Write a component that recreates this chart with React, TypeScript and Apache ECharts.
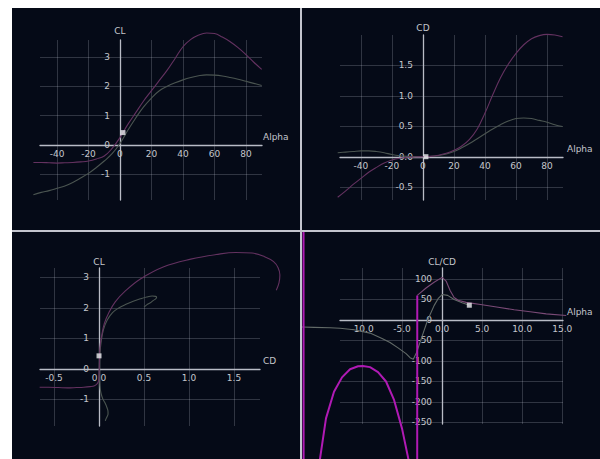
import React, { useEffect, useRef } from 'react';
import * as echarts from 'echarts';

// ---- Data ----
const alpha = [-55, -50, -45, -40, -35, -30, -25, -20, -15, -10, -5, 0, 5, 10, 15, 20, 25, 30, 35, 40, 45, 50, 55, 60, 65, 70, 75, 80, 85, 90];
// polar A (purple)
const clA = [-0.6, -0.6, -0.61, -0.62, -0.61, -0.6, -0.58, -0.55, -0.48, -0.38, -0.12, 0.25, 0.7, 1.1, 1.5, 1.85, 2.2, 2.55, 2.95, 3.35, 3.6, 3.75, 3.82, 3.8, 3.68, 3.52, 3.32, 3.08, 2.82, 2.58];
const cdA = [-0.66, -0.56, -0.45, -0.35, -0.25, -0.17, -0.1, -0.05, -0.02, -0.005, 0.0, 0.005, 0.01, 0.03, 0.06, 0.11, 0.18, 0.29, 0.46, 0.72, 1.02, 1.3, 1.52, 1.7, 1.84, 1.94, 1.99, 2.01, 2.0, 1.97];
// polar B (grey)
const clB = [-1.7, -1.62, -1.56, -1.48, -1.4, -1.28, -1.13, -0.97, -0.77, -0.55, -0.3, 0.05, 0.5, 0.92, 1.3, 1.6, 1.85, 2.0, 2.12, 2.22, 2.3, 2.36, 2.39, 2.38, 2.35, 2.3, 2.24, 2.17, 2.1, 2.03];
const cdB = [0.07, 0.08, 0.09, 0.1, 0.1, 0.09, 0.07, 0.04, 0.02, 0.01, 0.006, 0.006, 0.01, 0.025, 0.05, 0.09, 0.15, 0.22, 0.3, 0.38, 0.46, 0.53, 0.59, 0.63, 0.64, 0.63, 0.6, 0.57, 0.53, 0.5];

// CL/CD panel
const ratioAlphaA = [-17.35, -17.25, -16.5, -15.8, -15.25, -14.5, -13.5, -12.5, -11.5, -10.5, -9.9, -9, -8, -7, -6, -5, -4.2, -3.6, -3.3, -3.15, -3.1];
const ratioA = [3000, -3000, -900, -500, -339, -240, -175, -140, -120, -113, -112, -115, -127, -150, -195, -265, -340, -520, -1500, -3000, 60];
const ratioAlphaA2 = [-3.1, -2, -1, 0, 0.5, 1, 1.5, 2, 3, 5, 7, 9, 11, 13, 15.5];
const ratioA2 = [60, 78, 92, 104, 95, 72, 55, 48, 43, 37, 31, 25, 20, 15, 11];
const ratioAlphaB = [-18, -16, -14, -12.75, -11, -9, -7.5, -6.5, -5.5, -4.5, -4, -3.6, -3.2, -2.5, -1.8, -1, -0.5, 0, 0.7, 1.5, 2.5, 3.4];
const ratioB = [-17, -18, -19, -20, -24, -32, -45, -55, -68, -82, -92, -96, -80, -40, 0, 35, 52, 62, 60, 50, 42, 36];

// current operating point markers
const markerCL = [[1.9, 0.42]];
const markerCD = [[1.9, 0.005]];
const markerPolar = [[0.0, 0.43]];
const markerRatio = [[3.4, 36]];

// ---- Styling ----
const BG = '#050a17';
const AXIS_COLOR = '#b9bcc6';
const GRID_COLOR = 'rgba(205,210,225,0.22)';
const LABEL_COLOR = '#c4c6cc';
const FONT = 'DejaVu Sans';
const PURPLE = '#643260';
const GREY = '#4b5551';

type Box = { left: number; top: number; width: number; height: number };

function visAxis(isX: boolean, min: number, max: number, step: number, dec: number, name: string, nameGap: number, offset: number, margin: number) {
  return {
    type: 'value',
    gridIndex: 0,
    position: isX ? 'bottom' : 'left',
    offset,
    min,
    max,
    minInterval: step,
    maxInterval: step,
    splitNumber: Math.round((max - min) / step),
    name,
    nameLocation: 'end',
    nameGap,
    nameTextStyle: isX
      ? { color: LABEL_COLOR, fontFamily: FONT, fontSize: 9, verticalAlign: 'bottom', padding: [0, 0, 3, 0] }
      : { color: LABEL_COLOR, fontFamily: FONT, fontSize: 9 },
    axisLine: { onZero: false, lineStyle: { color: AXIS_COLOR, width: 1.3 } },
    axisTick: { show: false },
    axisLabel: {
      color: LABEL_COLOR,
      fontFamily: FONT,
      fontSize: 9,
      margin,
      showMinLabel: false,
      showMaxLabel: false,
      formatter: (v: number) => v.toFixed(dec),
    },
    splitLine: { show: true, showMinLine: false, showMaxLine: false, lineStyle: { color: GRID_COLOR, width: 1 } },
  };
}

function hiddenAxis(min: number, max: number) {
  return { type: 'value', gridIndex: 1, min, max, show: false, splitLine: { show: false } };
}

function line(data: number[][], color: string, width: number, smooth: boolean | number) {
  return {
    type: 'line',
    xAxisIndex: 1,
    yAxisIndex: 1,
    data,
    showSymbol: false,
    clip: false,
    smooth,
    lineStyle: { color, width },
    itemStyle: { color },
    silent: true,
  };
}

function marker(data: number[][]) {
  return {
    type: 'scatter',
    xAxisIndex: 1,
    yAxisIndex: 1,
    data,
    symbol: 'rect',
    symbolSize: 5,
    clip: false,
    itemStyle: { color: '#ececf0' },
    z: 5,
    silent: true,
  };
}

const zip = (xs: number[], ys: number[]) => xs.map((x, i) => [x, ys[i]]);

// Builds a panel: visible axes on the plot box, series on a full-panel grid with the same scale
function panel(
  W: number,
  H: number,
  g: Box,
  x: [number, number, number, number, string, number],
  y: [number, number, number, number, string, number],
  series: any[]
) {
  const [xmin, xmax, xstep, xdec, xname, xgap] = x;
  const [ymin, ymax, ystep, ydec, yname, ygap] = y;
  const ppx = g.width / (xmax - xmin);
  const ppy = g.height / (ymax - ymin);
  const xOff = -((0 - ymin) * ppy); // move x axis up to y = 0
  const yOff = -((0 - xmin) * ppx); // move y axis right to x = 0
  return {
    animation: false,
    backgroundColor: BG,
    grid: [
      { ...g },
      { left: 0, top: 0, width: W, height: H },
    ],
    xAxis: [
      visAxis(true, xmin, xmax, xstep, xdec, xname, xgap, xOff, 5),
      hiddenAxis(xmin - g.left / ppx, xmax + (W - g.left - g.width) / ppx),
    ],
    yAxis: [
      visAxis(false, ymin, ymax, ystep, ydec, yname, ygap, yOff, 10),
      hiddenAxis(ymin - (H - g.top - g.height) / ppy, ymax + g.top / ppy),
    ],
    series,
  };
}

const opt1 = panel(
  288, 222,
  { left: 28, top: 32, width: 222, height: 160 },
  [-50.8, 90.2, 20, 0, 'Alpha', 1],
  [-1.88, 3.58, 1, 0, 'CL', 5],
  [line(zip(alpha, clB), GREY, 1.1, 0.4), line(zip(alpha, clA), PURPLE, 1.1, 0.4), marker(markerCL)]
);

const opt2 = panel(
  298, 222,
  { left: 38, top: 27, width: 223, height: 165 },
  [-53.5, 90.3, 20, 0, 'Alpha', 4],
  [-0.705, 2.0, 0.5, 1, 'CD', 3],
  [line(zip(alpha, cdB), GREY, 1.1, 0.4), line(zip(alpha, cdA), PURPLE, 1.1, 0.4), marker(markerCD)]
);

const opt3 = panel(
  288, 227,
  { left: 28, top: 36, width: 220, height: 158 },
  [-0.656, 1.789, 0.5, 1, 'CD', 3],
  [-1.87, 3.31, 1, 0, 'CL', 2],
  [line(zip(cdB, clB), GREY, 1.1, 0.4), line(zip(cdA, clA), PURPLE, 1.1, 0.4), marker(markerPolar)]
);

const opt4 = panel(
  298, 227,
  { left: 38, top: 36, width: 223, height: 156 },
  [-12.75, 15.1, 5, 1, 'Alpha', 4],
  [-253.7, 126.8, 50, 0, 'CL/CD', 2],
  [
    line(zip(ratioAlphaB, ratioB), '#636b68', 1.1, false),
    line(zip(ratioAlphaA2, ratioA2), '#7a4a76', 1.1, false),
    line(zip(ratioAlphaA, ratioA), '#b01ab4', 2, false),
    marker(markerRatio),
  ]
);

function Panel({ left, top, width, height, option }: { left: number; top: number; width: number; height: number; option: any }) {
  const ref = useRef<HTMLDivElement>(null);
  useEffect(() => {
    if (!ref.current) return;
    const chart = echarts.init(ref.current, undefined, { renderer: 'svg' });
    chart.setOption(option);
    return () => chart.dispose();
  }, [option]);
  return (
    <div
      ref={ref}
      style={{ position: 'absolute', left, top, width, height, overflow: 'hidden', background: BG }}
    />
  );
}

export default function App() {
  return (
    <div style={{ position: 'absolute', left: 0, top: 0, width: 600, height: 459, background: '#ffffff', overflow: 'hidden' }}>
      <div style={{ position: 'absolute', left: 12, top: 8, width: 588, height: 451, background: '#c3c5ce' }} />
      <Panel left={12} top={8} width={288} height={222} option={opt1} />
      <Panel left={302} top={8} width={298} height={222} option={opt2} />
      <Panel left={12} top={232} width={288} height={227} option={opt3} />
      <Panel left={302} top={232} width={298} height={227} option={opt4} />
    </div>
  );
}
